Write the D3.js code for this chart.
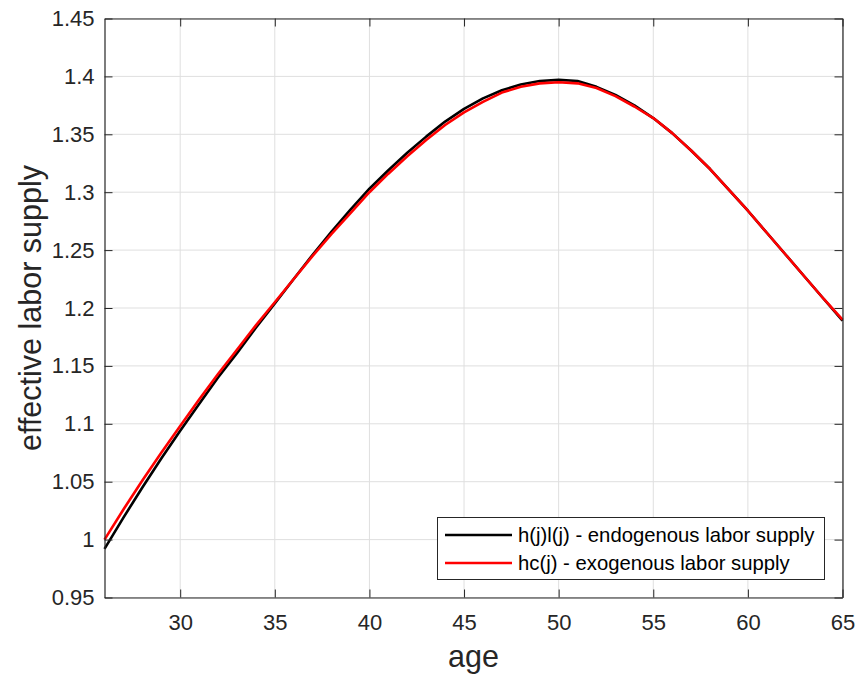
<!DOCTYPE html>
<html><head><meta charset="utf-8">
<script src="https://cdn.jsdelivr.net/npm/d3@7"></script>
<style>body{margin:0;background:#fff}svg{display:block}text{font-family:"Liberation Sans",Arial,sans-serif}</style>
</head><body><svg id="c" width="858" height="681"></svg>
<script>
const ages = d3.range(26, 66);
const endogenous = [0.992,1.019,1.045,1.070,1.094,1.117,1.140,1.161,1.183,1.204,1.225,1.246,1.266,1.285,1.303,1.319,1.334,1.348,1.361,1.372,1.381,1.388,1.393,1.396,1.397,1.396,1.391,1.384,1.375,1.364,1.351,1.336,1.320,1.302,1.284,1.265,1.246,1.227,1.208,1.189];
const exogenous = [1.000,1.026,1.051,1.075,1.098,1.121,1.143,1.164,1.185,1.205,1.225,1.245,1.264,1.282,1.300,1.316,1.331,1.345,1.358,1.369,1.378,1.386,1.391,1.394,1.395,1.394,1.390,1.383,1.374,1.364,1.351,1.336,1.320,1.302,1.284,1.265,1.246,1.227,1.208,1.190];
const xTicks = [30,35,40,45,50,55,60,65];
const yTicks = [0.95,1,1.05,1.1,1.15,1.2,1.25,1.3,1.35,1.4,1.45];
const seriesNames = ["h(j)l(j) - endogenous labor supply","hc(j) - exogenous labor supply"];
const seriesColors = ["#000000","#ff0000"];

const svg = d3.select("#c");
const L=104.5, R=842.5, T=18.5, B=597.5;
const x = d3.scaleLinear().domain([26,65]).range([L,R]);
const y = d3.scaleLinear().domain([0.95,1.45]).range([B,T]);
const ink="#262626";

// grid
const g = svg.append("g");
g.selectAll(".gx").data(xTicks).enter().append("line")
 .attr("x1",d=>x(d)).attr("x2",d=>x(d)).attr("y1",T).attr("y2",B)
 .attr("stroke","#dfdfdf").attr("stroke-width",1);
g.selectAll(".gy").data(yTicks).enter().append("line")
 .attr("x1",L).attr("x2",R).attr("y1",d=>y(d)).attr("y2",d=>y(d))
 .attr("stroke","#dfdfdf").attr("stroke-width",1);

// lines
const line = d3.line().x((d,i)=>x(ages[i])).y(d=>y(d));
[endogenous, exogenous].forEach((s,k)=>{
  svg.append("path").datum(s).attr("d",line).attr("fill","none")
   .attr("stroke",seriesColors[k]).attr("stroke-width",2.6).attr("stroke-linejoin","round");
});

// axes
const fmt = d=>String(d);
const ax = svg.append("g").attr("transform",`translate(0,${B})`)
 .call(d3.axisBottom(x).tickValues(xTicks).tickSize(-8).tickSizeOuter(0).tickPadding(17).tickFormat(fmt));
const axT = svg.append("g").attr("transform",`translate(0,${T})`)
 .call(d3.axisTop(x).tickValues(xTicks).tickSize(-8).tickSizeOuter(0).tickFormat(""));
const ay = svg.append("g").attr("transform",`translate(${L},0)`)
 .call(d3.axisLeft(y).tickValues(yTicks).tickSize(-8).tickSizeOuter(0).tickPadding(10).tickFormat(fmt));
const ayR = svg.append("g").attr("transform",`translate(${R},0)`)
 .call(d3.axisRight(y).tickValues(yTicks).tickSize(-8).tickSizeOuter(0).tickFormat(""));
[ax,axT,ay,ayR].forEach(a=>{
  a.select(".domain").attr("stroke",ink).attr("stroke-width",1.2);
  a.selectAll(".tick line").attr("stroke",ink).attr("stroke-width",1);
  a.selectAll("text").attr("fill",ink).style("font-size","22px");
});

// labels
svg.append("text").attr("x",(L+R)/2).attr("y",667).attr("text-anchor","middle")
 .attr("fill",ink).style("font-size","30.5px").text("age");
svg.append("text").attr("transform",`translate(41,${(T+B)/2}) rotate(-90)`).attr("text-anchor","middle")
 .attr("fill",ink).style("font-size","30.5px").text("effective labor supply");

// legend
const lg = svg.append("g");
lg.append("rect").attr("x",437.5).attr("y",517.5).attr("width",387).attr("height",62)
 .attr("fill","#fff").attr("stroke",ink).attr("stroke-width",1);
seriesNames.forEach((n,k)=>{
  const yy = 535 + k*28;
  lg.append("line").attr("x1",445).attr("x2",512).attr("y1",yy).attr("y2",yy)
   .attr("stroke",seriesColors[k]).attr("stroke-width",2.6);
  lg.append("text").attr("x",518).attr("y",yy+7).attr("fill","#000").style("font-size","20.3px").text(n);
});
</script></body></html>
